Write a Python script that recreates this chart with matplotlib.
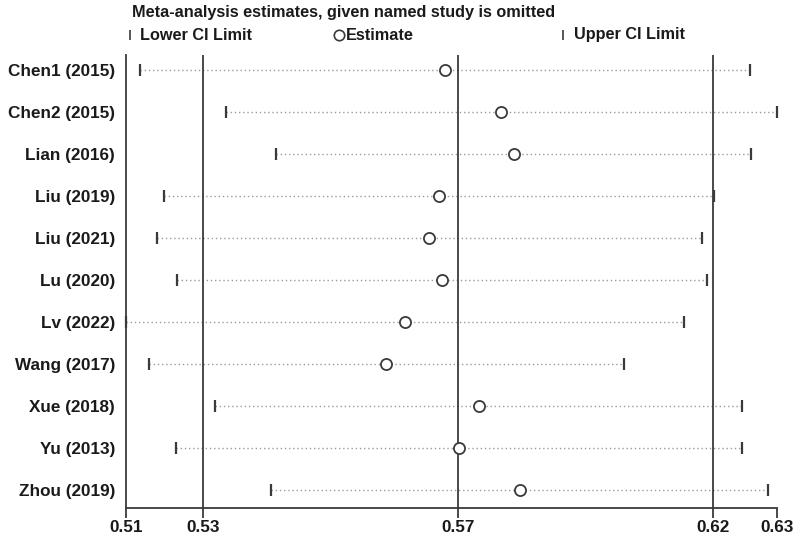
import matplotlib
matplotlib.use("Agg")
import matplotlib.pyplot as plt
from matplotlib.lines import Line2D

plt.rcParams['font.family'] = ['Liberation Sans', 'DejaVu Sans']
plt.rcParams['font.weight'] = 'bold'

studies = ["Chen1 (2015)", "Chen2 (2015)", "Lian (2016)", "Liu (2019)", "Liu (2021)",
           "Lu (2020)", "Lv (2022)", "Wang (2017)", "Xue (2018)", "Yu (2013)", "Zhou (2019)"]
lower = [0.5146, 0.5305, 0.5398, 0.5190, 0.5177, 0.5215, 0.5120, 0.5163, 0.5285, 0.5213, 0.5389]
estimate = [0.5710, 0.5814, 0.5838, 0.5699, 0.5681, 0.5705, 0.5637, 0.5601, 0.5774, 0.5737, 0.5849]
upper = [0.6275, 0.6325, 0.6277, 0.6208, 0.6186, 0.6195, 0.6153, 0.6042, 0.6261, 0.6260, 0.6309]

overall_lower = 0.5263
overall_est = 0.5734
overall_upper = 0.6207

tick_values = [min(lower), overall_lower, overall_est, overall_upper, max(upper)]
tick_labels = ["0.51", "0.53", "0.57", "0.62", "0.63"]

FS = 12.3
FS_T = 11.7
txt = "#1a1a1a"

fig = plt.figure(figsize=(8.0, 5.39), dpi=100)
ax = fig.add_axes([126/800, 1-507.7/539, (777-126)/800, (507.7-55)/539])

ys = list(range(1, len(studies)+1))
dark = "#3a3a3a"

for y, lo, es, up in zip(ys, lower, estimate, upper):
    ax.plot([lo, up], [y, y], linestyle=(0, (1, 2)), color="#9a9a9a", lw=1.0, zorder=1)

for v in (overall_lower, overall_est, overall_upper):
    ax.axvline(v, color=dark, lw=1.3, zorder=2)

ax.plot(lower, ys, linestyle="none", marker="|", markersize=9, mew=1.6, color=dark, zorder=3, clip_on=False)
ax.plot(upper, ys, linestyle="none", marker="|", markersize=9, mew=1.6, color=dark, zorder=3, clip_on=False)
ax.plot(estimate, ys, linestyle="none", marker="o", markersize=8, mfc="white", mec=dark, mew=1.3, zorder=4)

ax.set_xlim(min(lower), max(upper))
ax.set_ylim(11 + 17.7/42, 1 - 15/42)

ax.set_yticks(ys)
ax.set_yticklabels(studies, fontsize=FS, color=txt, fontweight="bold")
ax.tick_params(axis='y', length=0, pad=8)

ax.set_xticks(tick_values)
ax.set_xticklabels(tick_labels, fontsize=FS, color=txt, fontweight="bold")
ax.tick_params(axis='x', length=7, width=1.3, color=dark, pad=1.5)

for s in ("top", "right"):
    ax.spines[s].set_visible(False)
for s in ("left", "bottom"):
    ax.spines[s].set_color(dark)
    ax.spines[s].set_linewidth(1.3)

# legend / title
fig.text(132/800, 1-13/539, "Meta-analysis estimates, given named study is omitted",
         fontsize=FS_T, color=txt, ha="left", va="center", fontweight="bold")
ly = 1-35/539
fig.add_artist(Line2D([130/800], [ly], marker="|", markersize=7, mew=1.2, color=dark, linestyle="none"))
fig.text(140/800, ly, "Lower CI Limit", fontsize=FS_T, color=txt, ha="left", va="center", fontweight="bold")
fig.add_artist(Line2D([339/800], [ly], marker="o", markersize=7.5, mfc="white", mec=dark, mew=1.2, linestyle="none"))
fig.text(346/800, ly, "Estimate", fontsize=FS_T, color=txt, ha="left", va="center", fontweight="bold")
fig.add_artist(Line2D([563/800], [ly], marker="|", markersize=7, mew=1.2, color=dark, linestyle="none"))
fig.text(574/800, ly, "Upper CI Limit", fontsize=FS_T, color=txt, ha="left", va="center", fontweight="bold")

fig.savefig("out.png", dpi=100)
